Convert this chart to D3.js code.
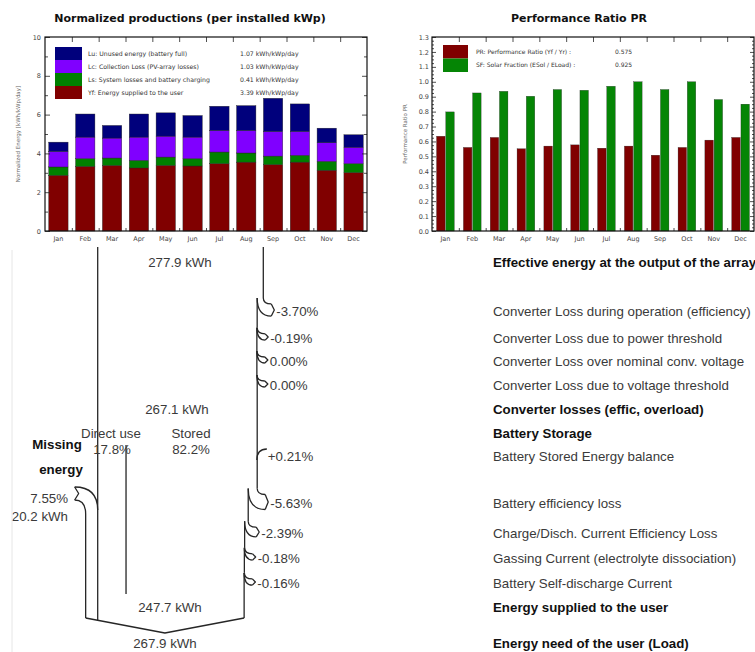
<!DOCTYPE html>
<html>
<head>
<meta charset="utf-8">
<script src="https://cdn.jsdelivr.net/npm/d3@7"></script>
<style>
  body { margin: 0; background: #fff; }
  svg { display: block; }
</style>
</head>
<body>
<svg id="chart" width="755" height="652"></svg>
<script>
// ---------- Monthly normalized productions (kWh/kWp/day) ----------
const months = ["Jan","Feb","Mar","Apr","May","Jun","Jul","Aug","Sep","Oct","Nov","Dec"];
const yfValues = [2.87, 3.33, 3.38, 3.25, 3.38, 3.35, 3.47, 3.55, 3.42, 3.55, 3.13, 3.01];
const lsValues = [0.43, 0.40, 0.38, 0.39, 0.43, 0.38, 0.60, 0.47, 0.44, 0.35, 0.46, 0.46];
const lcValues = [0.80, 1.11, 1.03, 1.20, 1.08, 1.11, 1.11, 1.16, 1.27, 1.23, 0.96, 0.85];
const luValues = [0.48, 1.19, 0.65, 1.19, 1.20, 1.11, 1.25, 1.28, 1.71, 1.42, 0.75, 0.64];
const energyKeys = ["yf", "ls", "lc", "lu"];
const energyLegendKeys = ["lu", "lc", "ls", "yf"];
const energyLegendLabels = [
  "Lu: Unused energy (battery full)",
  "Lc: Collection Loss (PV-array losses)",
  "Ls: System losses and battery charging",
  "Yf: Energy supplied to the user"
];
const energyLegendValues = ["1.07 kWh/kWp/day", "1.03 kWh/kWp/day", "0.41 kWh/kWp/day", "3.39 kWh/kWp/day"];
const energyTicks = [0, 2, 4, 6, 8, 10];
const energyMinorTicks = [1, 3, 5, 7, 9];

// ---------- Monthly performance ratio and solar fraction ----------
const prValues = [0.635, 0.560, 0.627, 0.551, 0.569, 0.577, 0.555, 0.569, 0.508, 0.560, 0.609, 0.627];
const sfValues = [0.798, 0.925, 0.936, 0.903, 0.948, 0.943, 0.970, 1.000, 0.948, 1.000, 0.881, 0.850];
const ratioKeys = ["pr", "sf"];
const ratioLegendLabels = ["PR: Performance Ratio (Yf / Yr) :", "SF: Solar Fraction (ESol / ELoad) :"];
const ratioLegendValues = ["0.575", "0.925"];
const ratioTicks = [0, 0.1, 0.2, 0.3, 0.4, 0.5, 0.6, 0.7, 0.8, 0.9, 1.0, 1.1, 1.2, 1.3];

// ---------- Energy flow (loss diagram) ----------
const arrayEnergy = 277.9;              // kWh at array output
const converterLabels = [
  "Converter Loss during operation (efficiency)",
  "Converter Loss due to power threshold",
  "Converter Loss over nominal conv. voltage",
  "Converter Loss due to voltage threshold"
];
const converterPct = [-3.70, -0.19, 0.00, 0.00];
const converterOutput = 267.1;
const batteryShareLabels = ["Direct use", "Stored"];
const batterySharePct = [17.8, 82.2];
const balanceLabel = "Battery Stored Energy balance";
const balancePct = 0.21;
const batteryLabels = [
  "Battery efficiency loss",
  "Charge/Disch. Current Efficiency Loss",
  "Gassing Current (electrolyte dissociation)",
  "Battery Self-discharge Current"
];
const batteryPct = [-5.63, -2.39, -0.18, -0.16];
const suppliedEnergy = 247.7;
const missingPct = 7.55;
const missingEnergy = 20.2;
const loadEnergy = 267.9;

// ================================================================
const svg = d3.select("#chart");
const chartFont = "DejaVu Sans, Verdana, sans-serif";
const flowFont = "Liberation Sans, Arial, sans-serif";
const colors = { lu: "#00007c", lc: "#8000ff", ls: "#008000", yf: "#800000", pr: "#800000", sf: "#058505" };

function styleAxis(g, size) {
  g.select(".domain").remove();
  g.selectAll(".tick line").attr("stroke", "#222").attr("stroke-width", 0.8);
  g.selectAll(".tick text").attr("font-family", chartFont).attr("font-size", size || 6.5).attr("fill", "#444");
}

// ---------- Left chart: stacked normalized productions ----------
(function () {
  const box = { x0: 45, x1: 367, y0: 37, y1: 231 };
  const rows = months.map((m, i) => ({ month: m, yf: yfValues[i], ls: lsValues[i], lc: lcValues[i], lu: luValues[i] }));
  const x = d3.scaleBand().domain(months).range([box.x0, box.x1]).paddingInner(0.28).paddingOuter(0.14);
  const y = d3.scaleLinear().domain([0, 10]).range([box.y1, box.y0]);
  const xEdge = d3.scaleLinear().domain([0, months.length]).range([box.x0, box.x1]);
  const stack = d3.stack().keys(energyKeys)(rows);

  const g = svg.append("g");
  g.append("text").attr("x", 190).attr("y", 18).attr("text-anchor", "middle").attr("dy", "0.35em")
    .attr("font-family", chartFont).attr("font-weight", "bold").attr("font-size", 11).attr("fill", "#111")
    .text("Normalized productions (per installed kWp)");

  g.selectAll("g.layer").data(stack).join("g").attr("class", "layer")
    .attr("fill", d => colors[d.key])
    .selectAll("rect").data(d => d).join("rect")
    .attr("x", d => x(d.data.month)).attr("width", x.bandwidth())
    .attr("y", d => y(d[1])).attr("height", d => y(d[0]) - y(d[1]))
    .attr("stroke", "#222").attr("stroke-width", 0.4);

  // axes
  g.append("g").attr("transform", `translate(${box.x0},0)`)
    .call(d3.axisLeft(y).tickValues(energyTicks).tickSize(-5).tickPadding(4).tickFormat(d3.format("d"))).call(styleAxis);
  g.append("g").attr("transform", `translate(${box.x0},0)`)
    .call(d3.axisLeft(y).tickValues(energyMinorTicks).tickSize(-3).tickFormat("")).call(styleAxis);
  g.append("g").attr("transform", `translate(${box.x1},0)`)
    .call(d3.axisRight(y).tickValues(energyTicks).tickSize(-5).tickFormat("")).call(styleAxis);
  g.append("g").attr("transform", `translate(${box.x1},0)`)
    .call(d3.axisRight(y).tickValues(energyMinorTicks).tickSize(-3).tickFormat("")).call(styleAxis);
  g.append("g").attr("transform", `translate(0,${box.y0})`)
    .call(d3.axisTop(xEdge).tickValues(d3.range(1, months.length)).tickSize(-5).tickFormat("")).call(styleAxis);
  g.append("g").attr("transform", `translate(0,${box.y1})`)
    .call(d3.axisBottom(xEdge).tickValues(d3.range(1, months.length)).tickSize(-3).tickFormat("")).call(styleAxis);
  g.append("g").attr("transform", `translate(0,${box.y1})`)
    .call(d3.axisBottom(x).tickSize(0).tickPadding(5)).call(styleAxis);

  g.append("rect").attr("x", box.x0).attr("y", box.y0).attr("width", box.x1 - box.x0).attr("height", box.y1 - box.y0)
    .attr("fill", "none").attr("stroke", "#111").attr("stroke-width", 1.2);

  g.append("text").attr("transform", `translate(18,${(box.y0 + box.y1) / 2}) rotate(-90)`)
    .attr("text-anchor", "middle").attr("dy", "0.35em")
    .attr("font-family", chartFont).attr("font-size", 5.5).attr("fill", "#666")
    .text("Normalized Energy [kWh/kWp/day]");

  // legend
  const lg = g.append("g");
  energyLegendKeys.forEach((k, i) => {
    lg.append("rect").attr("x", 55).attr("y", 47 + i * 13).attr("width", 27).attr("height", 13).attr("fill", colors[k]);
    lg.append("text").attr("x", 88).attr("y", 53.5 + i * 13).attr("dy", "0.35em")
      .attr("font-family", chartFont).attr("font-size", 6.2).attr("fill", "#333").text(energyLegendLabels[i]);
    lg.append("text").attr("x", 240).attr("y", 53.5 + i * 13).attr("dy", "0.35em")
      .attr("font-family", chartFont).attr("font-size", 6.2).attr("fill", "#333").text(energyLegendValues[i]);
  });
})();

// ---------- Right chart: PR and solar fraction ----------
(function () {
  const box = { x0: 432, x1: 754, y0: 37, y1: 231 };
  const rows = months.map((m, i) => ({ month: m, pr: prValues[i], sf: sfValues[i] }));
  const x = d3.scaleBand().domain(months).range([box.x0, box.x1]).paddingInner(0.34).paddingOuter(0.17);
  const xs = d3.scaleBand().domain(ratioKeys).range([0, x.bandwidth()]).paddingInner(0.08);
  const y = d3.scaleLinear().domain([0, 1.3]).range([box.y1, box.y0]);
  const xEdge = d3.scaleLinear().domain([0, months.length]).range([box.x0, box.x1]);
  const minor = d3.range(0, 53).map(i => i * 0.025).filter((v, i) => i % 4 !== 0);

  const g = svg.append("g");
  g.append("text").attr("x", 579).attr("y", 18).attr("text-anchor", "middle").attr("dy", "0.35em")
    .attr("font-family", chartFont).attr("font-weight", "bold").attr("font-size", 11).attr("fill", "#111")
    .text("Performance Ratio PR");

  g.selectAll("g.month").data(rows).join("g").attr("class", "month")
    .attr("transform", d => `translate(${x(d.month)},0)`)
    .selectAll("rect").data(d => ratioKeys.map(k => ({ key: k, value: d[k] }))).join("rect")
    .attr("x", d => xs(d.key)).attr("width", xs.bandwidth())
    .attr("y", d => y(d.value)).attr("height", d => y(0) - y(d.value))
    .attr("fill", d => colors[d.key]).attr("stroke", "#222").attr("stroke-width", 0.3);

  g.append("g").attr("transform", `translate(${box.x0},0)`)
    .call(d3.axisLeft(y).tickValues(ratioTicks).tickSize(-4).tickPadding(3).tickFormat(d3.format(".1f"))).call(styleAxis, 6.5);
  g.append("g").attr("transform", `translate(${box.x0},0)`)
    .call(d3.axisLeft(y).tickValues(minor).tickSize(-2).tickFormat("")).call(styleAxis);
  g.append("g").attr("transform", `translate(${box.x1},0)`)
    .call(d3.axisRight(y).tickValues(ratioTicks).tickSize(-4).tickFormat("")).call(styleAxis);
  g.append("g").attr("transform", `translate(${box.x1},0)`)
    .call(d3.axisRight(y).tickValues(minor).tickSize(-2).tickFormat("")).call(styleAxis);
  g.append("g").attr("transform", `translate(0,${box.y0})`)
    .call(d3.axisTop(xEdge).tickValues(d3.range(1, months.length)).tickSize(-5).tickFormat("")).call(styleAxis);
  g.append("g").attr("transform", `translate(0,${box.y1})`)
    .call(d3.axisBottom(xEdge).tickValues(d3.range(1, months.length)).tickSize(-3).tickFormat("")).call(styleAxis);
  g.append("g").attr("transform", `translate(0,${box.y1})`)
    .call(d3.axisBottom(x).tickSize(0).tickPadding(5)).call(styleAxis);

  g.append("rect").attr("x", box.x0).attr("y", box.y0).attr("width", box.x1 - box.x0).attr("height", box.y1 - box.y0)
    .attr("fill", "none").attr("stroke", "#111").attr("stroke-width", 1.2);

  g.append("text").attr("transform", `translate(405,${(box.y0 + box.y1) / 2}) rotate(-90)`)
    .attr("text-anchor", "middle").attr("dy", "0.35em")
    .attr("font-family", chartFont).attr("font-size", 5.5).attr("fill", "#666")
    .text("Performance Ratio PR");

  ratioKeys.forEach((k, i) => {
    g.append("rect").attr("x", 443).attr("y", 45 + i * 13.5).attr("width", 25).attr("height", 13.5).attr("fill", colors[k]);
    g.append("text").attr("x", 476).attr("y", 51.75 + i * 13.5).attr("dy", "0.35em")
      .attr("font-family", chartFont).attr("font-size", 6).attr("fill", "#333").text(ratioLegendLabels[i]);
    g.append("text").attr("x", 615).attr("y", 51.75 + i * 13.5).attr("dy", "0.35em")
      .attr("font-family", chartFont).attr("font-size", 6).attr("fill", "#333").text(ratioLegendValues[i]);
  });
})();

// ---------- Loss diagram ----------
(function () {
  const pct = v => (v < 0 ? "-" : v > 0 ? "+" : "") + Math.abs(v).toFixed(2) + "%";
  const kwh = v => v.toFixed(1) + " kWh";
  // vertical layout of the rows
  const rowY = { effective: 262, converter: [311, 338, 361, 385], converterOut: 409, battery: 433,
                 share: 449, balance: 456, batteryLoss: [503, 533, 558, 583], supplied: 607, load: 643 };
  const topY = 247, baseY = 618, apexY = 633;
  const labelX = 493;

  const xL = 97.7;
  const kx = (263.3 - xL) / arrayEnergy;           // px per kWh
  const xAt = e => xL + kx * e;

  const lines = svg.append("g").attr("fill", "none").attr("stroke", "#262626").attr("stroke-width", 1.3)
    .attr("stroke-linejoin", "round");
  const texts = svg.append("g").attr("font-family", flowFont).attr("font-size", 13.3);

  // faint frame line on the left
  svg.append("line").attr("x1", 12).attr("x2", 12).attr("y1", 250).attr("y2", 652).attr("stroke", "#e6e6e6");

  const addLabel = (txt, y, bold) => texts.append("text").attr("x", labelX).attr("y", y).attr("dy", "0.35em")
    .attr("fill", bold ? "#111" : "#3a3a3a").attr("font-weight", bold ? "bold" : "normal").text(txt);
  const addValue = (txt, x, y, anchor, bold) => texts.append("text").attr("x", x).attr("y", y).attr("dy", "0.35em")
    .attr("text-anchor", anchor || "start").attr("fill", bold ? "#111" : "#3a3a3a")
    .attr("font-weight", bold ? "bold" : "normal").text(txt);

  // right edge of the flow, narrowed by each loss
  let e = arrayEnergy;
  let prevY = topY;
  function loss(p, y) {
    const x0 = xAt(e);
    e = e * (1 + p / 100);
    const x1 = xAt(e);
    const w = x0 - x1;
    const ya = y - 4 - w / 2, yb = y + 2 + w / 2, ys = ya - 6, xe = x0 + 8;
    lines.append("path").attr("d", `M${x0},${prevY}V${ys}`);
    lines.append("path").attr("d", `M${x0},${ys}Q${x0},${ya} ${xe},${ya}`);
    lines.append("path").attr("d", `M${x1},${ys}Q${x1},${yb} ${xe},${yb}`);
    lines.append("path").attr("d", `M${xe},${ya}L${xe + 3},${(ya + yb) / 2}L${xe},${yb}`);
    addValue(pct(p), x0 + 13, y);
    prevY = ys;
  }

  addLabel("Effective energy at the output of the array", rowY.effective, true);
  addValue(kwh(arrayEnergy), 180, rowY.effective, "middle");

  converterPct.forEach((p, i) => { loss(p, rowY.converter[i]); addLabel(converterLabels[i], rowY.converter[i]); });

  addLabel("Converter losses (effic, overload)", rowY.converterOut, true);
  addValue(kwh(converterOutput), 177, rowY.converterOut, "middle");
  addLabel("Battery Storage", rowY.battery, true);

  // direct use / stored split
  const xD = xL + kx * converterOutput * batterySharePct[0] / 100;
  addValue(batteryShareLabels[0], 111, rowY.battery, "middle");
  addValue(batteryShareLabels[1], 191, rowY.battery, "middle");
  addValue(batterySharePct[0].toFixed(1) + "%", 112, rowY.share, "middle");
  addValue(batterySharePct[1].toFixed(1) + "%", 191, rowY.share, "middle");
  lines.append("path").attr("d", `M${xD},445V594`);

  // stored energy balance (gain, enters from the right)
  {
    const x0 = xAt(e);
    e = e * (1 + balancePct / 100);
    const y = rowY.balance;
    lines.append("path").attr("d", `M${x0 + 10},${y - 7}Q${x0},${y - 7} ${x0},${y + 4}`);
    addValue(pct(balancePct), x0 + 11, y);
    addLabel(balanceLabel, y);
  }

  batteryPct.forEach((p, i) => { loss(p, rowY.batteryLoss[i]); addLabel(batteryLabels[i], rowY.batteryLoss[i]); });

  const xRend = xAt(e);
  lines.append("path").attr("d", `M${xRend},${prevY}V${baseY}`);

  // missing energy (enters from the left)
  const xM = xL - kx * missingEnergy;
  const hx = xM - 11;
  lines.append("path").attr("d", `M${hx},487Q${xL},487 ${xL},510`);
  lines.append("path").attr("d", `M${hx},500Q${xM},500 ${xM},514V${baseY}`);
  lines.append("path").attr("d", `M${hx},487L${hx + 4},493.5L${hx},500`);
  addValue(missingPct.toFixed(2) + "%", 68, 498, "end");
  addValue(kwh(missingEnergy), 68, 516, "end");
  addValue("Missing", 57, 444, "middle", true);
  addValue("energy", 61, 469, "middle", true);

  // bottom junction
  const apexX = (xM + xRend) / 2;
  const yLeftEnd = baseY + (xL - xM) / (apexX - xM) * (apexY - baseY);
  lines.append("path").attr("d", `M${xL},${topY}V${yLeftEnd}`);
  lines.append("path").attr("d", `M${xM},${baseY}L${apexX},${apexY}L${xRend},${baseY}`);

  addLabel("Energy supplied to the user", rowY.supplied, true);
  addValue(kwh(suppliedEnergy), 170, rowY.supplied, "middle");
  addLabel("Energy need of the user (Load)", rowY.load, true);
  addValue(kwh(loadEnergy), 165, rowY.load, "middle");
})();
</script>
</body>
</html>
